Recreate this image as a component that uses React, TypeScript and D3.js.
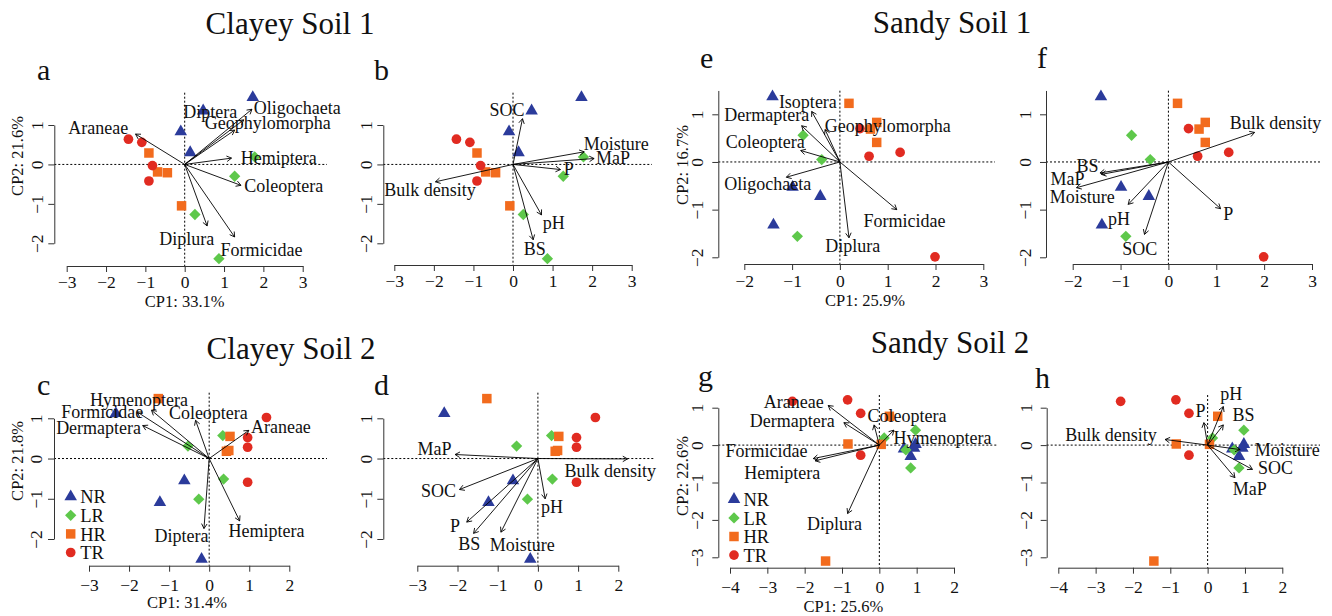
import React, { useEffect, useRef } from 'react';
import * as d3 from 'd3';

// ---- site scores (same for both panels of a soil) ----
const clay1NR = [[1.73, 1.70], [0.47, 1.36], [-0.10, 0.83], [0.14, 0.30]];
const clay1LR = [[1.78, 0.19], [1.27, -0.30], [0.26, -1.27], [0.87, -2.39]];
const clay1HR = [[-0.91, 0.29], [-0.69, -0.19], [-0.44, -0.21], [-0.08, -1.05]];
const clay1TR = [[-1.43, 0.64], [-1.09, 0.56], [-0.82, -0.03], [-0.91, -0.42]];

const sandy1NR = [[-1.41, 1.37], [-0.99, -0.53], [-0.41, -0.72], [-1.39, -1.32]];
const sandy1LR = [[-0.77, 0.56], [-0.38, 0.05], [-0.89, -1.56]];
const sandy1HR = [[0.19, 1.23], [0.77, 0.83], [0.64, 0.69], [0.77, 0.41]];
const sandy1TR = [[0.42, 0.70], [0.61, 0.12], [1.26, 0.20], [1.99, -1.99]];

const clay2NR = [[-2.33, 1.12], [-0.62, -0.55], [-1.23, -1.09], [-0.19, -2.50]];
const clay2LR = [[-0.53, 0.31], [0.34, 0.57], [0.36, -0.51], [-0.26, -1.01]];
const clay2HR = [[-1.27, 1.49], [0.52, 0.55], [0.43, 0.18], [0.49, 0.20]];
const clay2TR = [[1.43, 1.02], [0.96, 0.52], [0.96, 0.28], [0.96, -0.59]];

const sandy2NR = [[0.66, -0.10], [0.97, 0.02], [0.93, -0.08], [0.84, -0.30]];
const sandy2LR = [[0.97, 0.40], [0.13, 0.19], [0.71, -0.13], [0.84, -0.61]];
const sandy2HR = [[0.27, 0.77], [-0.84, 0.03], [0.05, 0.02], [-1.44, -3.10]];
const sandy2TR = [[-2.33, 1.17], [-0.85, 1.21], [-0.50, 0.85], [-0.50, -0.27]];

const groups = ['NR', 'LR', 'HR', 'TR'];
const groupColors = ['#2b3b9b', '#5ec84b', '#f26b1d', '#e12b21'];

// ---- arrows: names, tips, label centres (data units) ----
const aNames = ['Araneae', 'Diptera', 'Oligochaeta', 'Geophylomorpha', 'Hemiptera', 'Coleoptera', 'Diplura', 'Formicidae'];
const aTips = [[-1.25, 0.77], [1.50, 1.13], [1.71, 1.40], [1.27, 0.87], [1.19, 0.16], [1.43, -0.53], [0.57, -1.56], [1.27, -1.84]];
const aLabels = [[-2.20, 0.94], [0.65, 1.34], [2.86, 1.45], [2.11, 1.06], [2.39, 0.17], [2.52, -0.53], [0.05, -1.88], [1.95, -2.15]];

const bNames = ['SOC', 'Moisture', 'MaP', 'P', 'pH', 'BS', 'Bulk density'];
const bTips = [[0.24, 1.16], [1.80, 0.32], [2.05, 0.15], [1.20, -0.13], [0.72, -1.28], [0.51, -1.91], [-1.96, -0.44]];
const bLabels = [[-0.15, 1.39], [2.61, 0.53], [2.53, 0.17], [1.41, -0.10], [1.03, -1.47], [0.55, -2.14], [-2.10, -0.65]];

const eNames = ['Isoptera', 'Dermaptera', 'Geophylomorpha', 'Coleoptera', 'Oligochaeta', 'Formicidae', 'Diplura'];
const eTips = [[-0.59, 1.06], [-0.80, 0.76], [-0.31, 0.68], [-0.82, 0.24], [-1.12, -0.32], [1.19, -1.00], [0.19, -1.59]];
const eLabels = [[-0.67, 1.26], [-1.53, 1.00], [1.00, 0.76], [-1.56, 0.42], [-1.51, -0.45], [1.35, -1.23], [0.27, -1.76]];

const fNames = ['Bulk density', 'BS', 'MaP', 'Moisture', 'pH', 'SOC', 'P'];
const fTips = [[1.80, 0.62], [-1.43, -0.23], [-1.40, -0.26], [-1.92, -0.54], [-0.84, -0.89], [-0.50, -1.52], [1.09, -0.98]];
const fLabels = [[2.24, 0.83], [-1.69, -0.07], [-2.11, -0.36], [-1.80, -0.72], [-1.03, -1.19], [-0.60, -1.82], [1.25, -1.08]];

const cNames = ['Hymenoptera', 'Formicidae', 'Dermaptera', 'Coleoptera', 'Araneae', 'Hemiptera', 'Diptera'];
const cTips = [[-1.44, 1.20], [-1.80, 1.16], [-1.66, 0.82], [-0.34, 0.95], [0.99, 0.70], [0.76, -1.55], [-0.13, -1.74]];
const cLabels = [[-1.75, 1.45], [-2.67, 1.17], [-2.76, 0.76], [-0.02, 1.13], [1.79, 0.80], [1.43, -1.80], [-0.69, -1.92]];

const dNames = ['MaP', 'Bulk density', 'SOC', 'pH', 'P', 'BS', 'Moisture'];
const dTips = [[-2.06, 0.10], [2.23, -0.01], [-1.95, -0.77], [0.18, -1.00], [-1.77, -1.58], [-1.60, -1.86], [-0.92, -1.83]];
const dLabels = [[-2.57, 0.24], [1.80, -0.30], [-2.47, -0.81], [0.35, -1.19], [-2.06, -1.67], [-1.71, -2.12], [-0.39, -2.14]];

const gNames = ['Araneae', 'Dermaptera', 'Formicidae', 'Hemiptera', 'Coleoptera', 'Hymenoptera', 'Diplura'];
const gTips = [[-1.37, 1.06], [-0.95, 0.60], [-1.77, -0.36], [-1.72, -0.42], [-0.14, 0.54], [0.39, 0.40], [-0.85, -1.83]];
const gLabels = [[-2.29, 1.16], [-2.33, 0.64], [-3.02, -0.16], [-2.60, -0.74], [0.74, 0.78], [1.69, 0.20], [-1.20, -2.10]];

const hNames = ['pH', 'P', 'BS', 'Moisture', 'SOC', 'MaP', 'Bulk density'];
const hTips = [[0.42, 1.03], [-0.10, 0.60], [0.42, 0.54], [0.87, -0.12], [1.20, -0.65], [0.73, -0.87], [-1.14, 0.15]];
const hLabels = [[0.63, 1.37], [-0.19, 0.92], [0.96, 0.80], [2.13, -0.12], [1.82, -0.60], [1.13, -1.16], [-2.59, 0.27]];

const titles = ['Clayey Soil 1', 'Sandy Soil 1', 'Clayey Soil 2', 'Sandy Soil 2'];

const FONT = '"Liberation Serif", "Times New Roman", serif';

const clay1 = [clay1NR, clay1LR, clay1HR, clay1TR];
const sandy1 = [sandy1NR, sandy1LR, sandy1HR, sandy1TR];
const clay2 = [clay2NR, clay2LR, clay2HR, clay2TR];
const sandy2 = [sandy2NR, sandy2LR, sandy2HR, sandy2TR];

// layout of each panel (pixel positions of first/last tick etc.)
const panels = [
  { letter: 'a', letterPos: [37, 80], sites: clay1, names: aNames, tips: aTips, labels: aLabels,
    xt: [-3, 3], xr: [66.7, 302.7], yt: [-2, 1], yr: [243.3, 125], yTop: 1,
    yAxisX: 54.3, xAxisY: 266, hx: [54.3, 327], vTop: 92.7, xPad: 4, yOff: 11.6,
    xlab: 'CP1: 33.1%', xlabPos: [184.7, 307], ylab: 'CP2: 21.6%', ylabPos: [22.5, 156] },
  { letter: 'b', letterPos: [374, 80], sites: clay1, names: bNames, tips: bTips, labels: bLabels,
    xt: [-3, 3], xr: [394.3, 631.7], yt: [-2, 1], yr: [243.3, 125], yTop: 1,
    yAxisX: 383.3, xAxisY: 265, hx: [383.3, 652], vTop: 92.7, xPad: 4, yOff: 11.6 },
  { letter: 'e', letterPos: [700, 68], sites: sandy1, names: eNames, tips: eTips, labels: eLabels,
    xt: [-2, 3], xr: [744.3, 983.3], yt: [-2, 1], yr: [257.3, 114.3], yTop: 1.5,
    yAxisX: 718.3, xAxisY: 264, hx: [718.3, 995], vTop: 90.7, xPad: 5, yOff: 15,
    xlab: 'CP1: 25.9%', xlabPos: [865, 306], ylab: 'CP2: 16.7%', ylabPos: [688, 165] },
  { letter: 'f', letterPos: [1037, 68], sites: sandy1, names: fNames, tips: fTips, labels: fLabels,
    xt: [-2, 3], xr: [1072.7, 1312], yt: [-2, 1], yr: [257.3, 114.3], yTop: 1.5,
    yAxisX: 1046, xAxisY: 264, hx: [1046, 1320], vTop: 90.7, xPad: 5, yOff: 15 },
  { letter: 'c', letterPos: [37, 395], sites: clay2, names: cNames, tips: cTips, labels: cLabels,
    xt: [-3, 2], xr: [89, 289.3], yt: [-2, 1], yr: [539, 418.3], yTop: 1,
    yAxisX: 54, xAxisY: 565.7, hx: [54, 327], vTop: 392.7, xPad: 7, yOff: 11.6,
    xlab: 'CP1: 31.4%', xlabPos: [187, 608], ylab: 'CP2: 21.8%', ylabPos: [22.5, 461], legend: [70.7, 496.7] },
  { letter: 'd', letterPos: [374, 395], sites: clay2, names: dNames, tips: dTips, labels: dLabels,
    xt: [-3, 2], xr: [417.3, 618.3], yt: [-2, 1], yr: [539, 418.3], yTop: 1,
    yAxisX: 383.3, xAxisY: 565.7, hx: [383.3, 655], vTop: 392.7, xPad: 7, yOff: 11.6 },
  { letter: 'g', letterPos: [698, 386], sites: sandy2, names: gNames, tips: gTips, labels: gLabels,
    xt: [-4, 2], xr: [730, 954], yt: [-3, 1], yr: [557.3, 407.7], yTop: 1,
    yAxisX: 718.3, xAxisY: 567.7, hx: [718.3, 998], vTop: 395, xPad: 7, yOff: 15,
    xlab: 'CP1: 25.6%', xlabPos: [843.3, 612], ylab: 'CP2: 22.6%', ylabPos: [688, 476], legend: [734, 499.3] },
  { letter: 'h', letterPos: [1035, 388], sites: sandy2, names: hNames, tips: hTips, labels: hLabels,
    xt: [-4, 2], xr: [1058.3, 1282.3], yt: [-3, 1], yr: [557.3, 407.7], yTop: 1,
    yAxisX: 1046.7, xAxisY: 567.7, hx: [1046.7, 1320], vTop: 395, xPad: 7, yOff: 15 },
];

const titlePos = [[290, 34], [952, 33], [291, 359], [950, 353]];

function symbolFor(i) {
  const types = [d3.symbolTriangle, d3.symbolSquare, d3.symbolSquare, d3.symbolCircle];
  const sizes = [68, 64, 90, 74];
  return { path: d3.symbol().type(types[i]).size(sizes[i])(), rotate: i === 1 ? 45 : 0 };
}

function drawPanel(root, p) {
  const g = root.append('g');
  const x = d3.scaleLinear().domain(p.xt).range(p.xr);
  const y = d3.scaleLinear().domain(p.yt).range(p.yr);

  // dotted zero lines
  g.append('line')
    .attr('x1', p.hx[0]).attr('x2', p.hx[1]).attr('y1', y(0)).attr('y2', y(0))
    .attr('stroke', '#000').attr('stroke-width', 1).attr('stroke-dasharray', '2,2');
  g.append('line')
    .attr('x1', x(0)).attr('x2', x(0)).attr('y1', p.vTop).attr('y2', p.xAxisY)
    .attr('stroke', '#000').attr('stroke-width', 1).attr('stroke-dasharray', '2,2');

  // x axis
  const xAxis = d3.axisBottom(x).tickValues(d3.range(p.xt[0], p.xt[1] + 1))
    .tickSize(6).tickSizeOuter(0).tickPadding(p.xPad).tickFormat(d3.format('d'));
  const gx = g.append('g').attr('transform', `translate(0,${p.xAxisY})`).call(xAxis)
    .attr('font-family', FONT).attr('font-size', 17.5);
  gx.selectAll('path, line').attr('stroke', '#333');
  gx.selectAll('text').attr('fill', '#111');

  // y axis (line may run above the last tick)
  const ya = d3.scaleLinear().domain([p.yt[0], p.yTop]).range([y(p.yt[0]), y(p.yTop)]);
  const yAxis = d3.axisLeft(ya).tickValues(d3.range(p.yt[0], p.yt[1] + 1))
    .tickSize(6).tickSizeOuter(0).tickFormat(d3.format('d'));
  const gy = g.append('g').attr('transform', `translate(${p.yAxisX},0)`).call(yAxis)
    .attr('font-family', FONT).attr('font-size', 17.5);
  gy.selectAll('path, line').attr('stroke', '#333');
  gy.selectAll('text')
    .attr('x', null).attr('dy', null)
    .attr('transform', `translate(${-p.yOff},0) rotate(-90)`)
    .attr('text-anchor', 'middle')
    .attr('fill', '#111');

  // site points
  p.sites.forEach((pts, gi) => {
    const s = symbolFor(gi);
    g.selectAll(null).data(pts).enter().append('path')
      .attr('d', s.path)
      .attr('transform', d => `translate(${x(d[0])},${y(d[1])}) rotate(${s.rotate})`)
      .attr('fill', groupColors[gi]);
  });

  // arrows
  const ox = x(0), oy = y(0);
  p.tips.forEach((t) => {
    const tx = x(t[0]), ty = y(t[1]);
    const ang = Math.atan2(ty - oy, tx - ox);
    const len = 5.5, spread = Math.PI / 6;
    const path = d3.path();
    path.moveTo(ox, oy); path.lineTo(tx, ty);
    path.moveTo(tx - len * Math.cos(ang - spread), ty - len * Math.sin(ang - spread));
    path.lineTo(tx, ty);
    path.lineTo(tx - len * Math.cos(ang + spread), ty - len * Math.sin(ang + spread));
    g.append('path').attr('d', path.toString()).attr('fill', 'none')
      .attr('stroke', '#000').attr('stroke-width', 0.9);
  });

  g.selectAll(null).data(p.names).enter().append('text')
    .attr('x', (d, i) => x(p.labels[i][0]))
    .attr('y', (d, i) => y(p.labels[i][1]))
    .attr('dy', '0.35em')
    .attr('text-anchor', 'middle')
    .style('font-family', FONT).style('font-size', '18px')
    .attr('fill', '#111')
    .text(d => d);

  // panel letter
  g.append('text').attr('x', p.letterPos[0]).attr('y', p.letterPos[1])
    .style('font-family', FONT).style('font-size', '30px').attr('fill', '#111').text(p.letter);

  if (p.xlab) {
    g.append('text').attr('x', p.xlabPos[0]).attr('y', p.xlabPos[1]).attr('text-anchor', 'middle')
      .style('font-family', FONT).style('font-size', '16.5px').attr('fill', '#111').text(p.xlab);
    g.append('text').attr('transform', `translate(${p.ylabPos[0]},${p.ylabPos[1]}) rotate(-90)`)
      .attr('text-anchor', 'middle')
      .style('font-family', FONT).style('font-size', '16.5px').attr('fill', '#111').text(p.ylab);
  }

  if (p.legend) {
    groups.forEach((name, gi) => {
      const s = symbolFor(gi);
      const ly = p.legend[1] + gi * 18.6;
      g.append('path').attr('d', s.path)
        .attr('transform', `translate(${p.legend[0]},${ly}) rotate(${s.rotate})`)
        .attr('fill', groupColors[gi]);
      g.append('text').attr('x', p.legend[0] + 9.5).attr('y', ly).attr('dy', '0.36em')
        .style('font-family', FONT).style('font-size', '18.5px').attr('fill', '#111').text(name);
    });
  }
}

export default function App() {
  const ref = useRef(null);

  useEffect(() => {
    const svg = d3.select(ref.current);
    svg.selectAll('*').remove();
    svg.append('rect').attr('width', 1332).attr('height', 616).attr('fill', '#fff');

    svg.selectAll('text.title').data(titles).enter().append('text')
      .attr('class', 'title')
      .attr('x', (d, i) => titlePos[i][0]).attr('y', (d, i) => titlePos[i][1])
      .attr('text-anchor', 'middle')
      .style('font-family', FONT).style('font-size', '31px').attr('fill', '#111')
      .text(d => d);

    panels.forEach(p => drawPanel(svg, p));
  }, []);

  return (
    <svg ref={ref} width={1332} height={616}
      style={{ position: 'absolute', left: 0, top: 0, display: 'block' }} />
  );
}
